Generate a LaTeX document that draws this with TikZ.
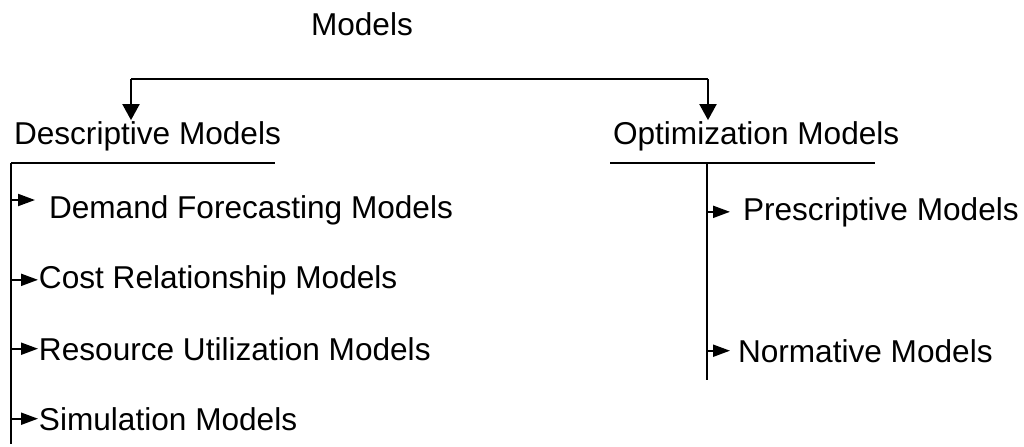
\documentclass[tikz,border=0pt]{standalone}
\usepackage{fontspec}
\setmainfont{Liberation Sans}
\usetikzlibrary{arrows.meta, positioning}

\begin{document}
\begin{tikzpicture}[
    x=0.5pt, y=-0.5pt,
    line width=1pt,
    every node/.style={inner sep=0pt, anchor=base west,
      font=\fontsize{15.8}{18}\selectfont},
    branch/.style={-{Triangle[length=8pt, width=8.5pt]}},
    leaf/.style={-{Triangle[length=8.5pt, width=6pt]}},
  ]
  \useasboundingbox (0,0) rectangle (1024,446);

  % Root
  \node (models) at (310,35) {Models};

  % === Two families ===
  \node (desc) at (13,144) {Descriptive Models};
  \node (optim) at (612,144) {Optimization Models};
  \coordinate (splitL) at (131,79);
  \coordinate (splitR) at (708,79);
  \draw (splitL) -- (splitR);
  \draw[branch] (splitL) -- (splitL |- desc.north);
  \draw[branch] (splitR) -- (splitR |- optim.north);

  % Underlines and trunks
  \coordinate (trunkL) at (11,163);
  \coordinate (trunkLend) at (11,444);
  \coordinate (trunkR) at (707,163);
  \coordinate (trunkRend) at (707,380);
  \draw (trunkL) -- (275,163);
  \draw (610,163) -- (875,163);
  \draw (trunkL) -- (trunkLend);
  \draw (trunkR) -- (trunkRend);

  % === Descriptive models ===
  \node (demand) at (48,218) {Demand Forecasting Models};
  \node (cost) at (38,288) {Cost Relationship Models};
  \node (resource) at (38,360) {Resource Utilization Models};
  \node (simul) at (38,430) {Simulation Models};

  \coordinate (demandtip) at (35,200);
  \draw[leaf] (trunkL |- demandtip) -- (demandtip);
  \foreach \n in {cost,resource,simul}
    \draw[leaf] (trunkL |- \n.west) -- (\n.west);

  % === Optimization models ===
  \node (prescr) at (742,220) {Prescriptive Models};
  \node (norm) at (737,362) {Normative Models};

  \draw[leaf] (trunkR |- prescr.west) -- ([xshift=-6pt]prescr.west);
  \draw[leaf] (trunkR |- norm.west) -- ([xshift=-3.5pt]norm.west);

\end{tikzpicture}
\end{document}
